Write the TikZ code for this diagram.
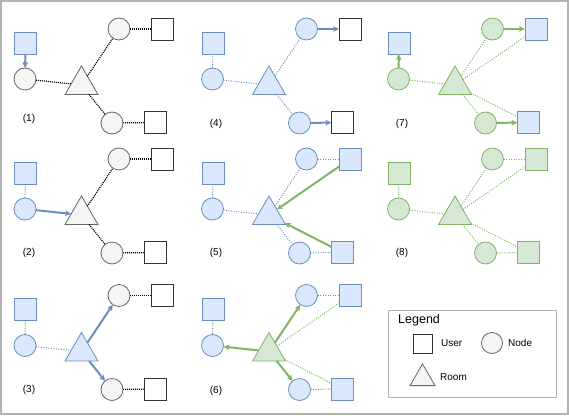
\documentclass[tikz,border=0pt]{standalone}
\usepackage{fontspec}
\setmainfont{Liberation Sans}
\usetikzlibrary{shapes.geometric,arrows.meta}

\definecolor{bfill}{HTML}{DAE8FC}
\definecolor{bline}{HTML}{6C8EBF}
\definecolor{gfill}{HTML}{D5E8D4}
\definecolor{gline}{HTML}{82B366}
\definecolor{grfill}{HTML}{F5F5F5}
\definecolor{grline}{HTML}{666666}
\definecolor{frame}{HTML}{B3B3B3}

\tikzset{
  base/.style={inner sep=0pt, outer sep=0pt, line width=0.8pt},
  usrW/.style={base, rectangle, minimum size=22pt, draw=black!80, fill=white},
  usrB/.style={base, rectangle, minimum size=22pt, draw=bline, fill=bfill},
  usrG/.style={base, rectangle, minimum size=22pt, draw=gline, fill=gfill},
  nodeGr/.style={base, circle, minimum size=22pt, draw=grline, fill=grfill},
  nodeB/.style={base, circle, minimum size=22pt, draw=bline, fill=bfill},
  nodeG/.style={base, circle, minimum size=22pt, draw=gline, fill=gfill},
  roomshape/.style={base, regular polygon, regular polygon sides=3, minimum size=38.1pt},
  roomGr/.style={roomshape, draw=grline, fill=grfill},
  roomB/.style={roomshape, draw=bline, fill=bfill},
  roomG/.style={roomshape, draw=gline, fill=gfill},
  linkK/.style={black, line width=1.2pt, dash pattern=on 1pt off 1pt},
  linkB/.style={bline, line width=1pt, dash pattern=on 1pt off 1.5pt},
  linkG/.style={gline, line width=1pt, dash pattern=on 1pt off 1.5pt},
  flowB/.style={bline, line width=2pt, -{Stealth[length=6pt,width=5.5pt,inset=1.5pt]}},
  flowG/.style={gline, line width=2pt, -{Stealth[length=6pt,width=5.5pt,inset=1.5pt]}},
  tag/.style={font=\fontsize{10}{12}\selectfont, inner sep=0pt},
}

% one panel: user, node, room, two nodes, two users
\newcommand{\placepanel}[7]{%
  \begin{scope}[shift={#2}]
    \node[#3] (#1s) at (25.5,43) {};
    \node[#4] (#1a) at (25,79) {};
    \node[#5] (#1r) at (81.5,85) {};
    \node[#6] (#1b) at (119,29) {};
    \node[#6] (#1c) at (112,123) {};
    \node[#7] (#1u) at (162.5,29) {};
    \node[#7] (#1v) at (155,122.5) {};
  \end{scope}}

\begin{document}
\begin{tikzpicture}[x=1pt,y=-1pt]
  \useasboundingbox (0,0) rectangle (569,415);
  \draw[frame, line width=1.5pt] (0.75,0.75) rectangle (567.75,413.75);

  \placepanel{p1}{(0,0)}{usrB}{nodeGr}{roomGr}{nodeGr}{usrW}
  \placepanel{p2}{(0,130)}{usrB}{nodeB}{roomGr}{nodeGr}{usrW}
  \placepanel{p3}{(0,266.5)}{usrB}{nodeB}{roomB}{nodeGr}{usrW}
  \placepanel{p4}{(187.5,0)}{usrB}{nodeB}{roomB}{nodeB}{usrW}
  \placepanel{p5}{(187.5,130)}{usrB}{nodeB}{roomB}{nodeB}{usrB}
  \placepanel{p6}{(187.5,266.5)}{usrB}{nodeB}{roomG}{nodeB}{usrB}
  \placepanel{p7}{(373.5,0)}{usrB}{nodeG}{roomG}{nodeG}{usrB}
  \placepanel{p8}{(373.5,130)}{usrG}{nodeG}{roomG}{nodeG}{usrG}

  % (1)
  \draw[flowB] (p1s) -- (p1a);
  \draw[linkK] (p1a) -- (p1r);
  \draw[linkK] (p1r) -- (p1b);
  \draw[linkK] (p1r) -- (p1c);
  \draw[linkK] (p1b) -- (p1u);
  \draw[linkK] (p1c) -- (p1v);
  % (2)
  \draw[linkB] (p2s) -- (p2a);
  \draw[flowB] (p2a) -- (p2r);
  \draw[linkK] (p2r) -- (p2b);
  \draw[linkK] (p2r) -- (p2c);
  \draw[linkK] (p2b) -- (p2u);
  \draw[linkK] (p2c) -- (p2v);
  % (3)
  \draw[linkB] (p3s) -- (p3a);
  \draw[linkB] (p3a) -- (p3r);
  \draw[flowB] (p3r) -- (p3b);
  \draw[flowB] (p3r) -- (p3c);
  \draw[linkK] (p3b) -- (p3u);
  \draw[linkK] (p3c) -- (p3v);
  % (4)
  \draw[linkB] (p4s) -- (p4a);
  \draw[linkB] (p4a) -- (p4r);
  \draw[linkB] (p4r) -- (p4b);
  \draw[linkB] (p4r) -- (p4c);
  \draw[flowB] (p4b) -- (p4u);
  \draw[flowB] (p4c) -- (p4v);
  % (5)
  \draw[linkB] (p5s) -- (p5a);
  \draw[linkB] (p5a) -- (p5r);
  \draw[linkB] (p5r) -- (p5b);
  \draw[linkB] (p5r) -- (p5c);
  \draw[linkB] (p5b) -- (p5u);
  \draw[linkB] (p5c) -- (p5v);
  \draw[flowG] (p5u) -- (p5r);
  \draw[flowG] (p5v) -- (p5r);
  % (6)
  \draw[linkB] (p6s) -- (p6a);
  \draw[linkB] (p6b) -- (p6u);
  \draw[linkB] (p6c) -- (p6v);
  \draw[linkG] (p6r) -- (p6u);
  \draw[linkG] (p6r) -- (p6v);
  \draw[flowG] (p6r) -- (p6a);
  \draw[flowG] (p6r) -- (p6b);
  \draw[flowG] (p6r) -- (p6c);
  % (7)
  \draw[flowG] (p7a) -- (p7s);
  \draw[linkG] (p7a) -- (p7r);
  \draw[linkG] (p7r) -- (p7b);
  \draw[linkG] (p7r) -- (p7c);
  \draw[linkG] (p7r) -- (p7u);
  \draw[linkG] (p7r) -- (p7v);
  \draw[flowG] (p7b) -- (p7u);
  \draw[flowG] (p7c) -- (p7v);
  % (8)
  \draw[linkG] (p8s) -- (p8a);
  \draw[linkG] (p8a) -- (p8r);
  \draw[linkG] (p8r) -- (p8b);
  \draw[linkG] (p8r) -- (p8c);
  \draw[linkG] (p8r) -- (p8u);
  \draw[linkG] (p8r) -- (p8v);
  \draw[linkG] (p8b) -- (p8u);
  \draw[linkG] (p8c) -- (p8v);

  % panel numbers
  \node[tag] (t1) at (29,119) {(1)};
  \node[tag] (t2) at (29,253) {(2)};
  \node[tag] (t3) at (29,390) {(3)};
  \node[tag] (t4) at (216,124) {(4)};
  \node[tag] (t5) at (216,253) {(5)};
  \node[tag] (t6) at (216,391) {(6)};
  \node[tag] (t7) at (402,124) {(7)};
  \node[tag] (t8) at (402,253) {(8)};

  % legend
  \draw[frame, fill=white, line width=1pt] (388,310) rectangle (556,397);
  \node[font=\fontsize{12.5}{14}\selectfont, anchor=west, inner sep=0pt] (lgt) at (398,320) {Legend};
  \node[usrW, minimum size=19pt] (lu) at (422.5,343.5) {};
  \node[tag, anchor=west] (lut) at (441,343.5) {User};
  \node[nodeGr, minimum size=21pt] (ln) at (492,343) {};
  \node[tag, anchor=west] (lnt) at (508,343) {Node};
  \node[roomGr, minimum size=28.9pt] (lr) at (422.5,378.4) {};
  \node[tag, anchor=west] (lrt) at (440,377) {Room};
\end{tikzpicture}
\end{document}
